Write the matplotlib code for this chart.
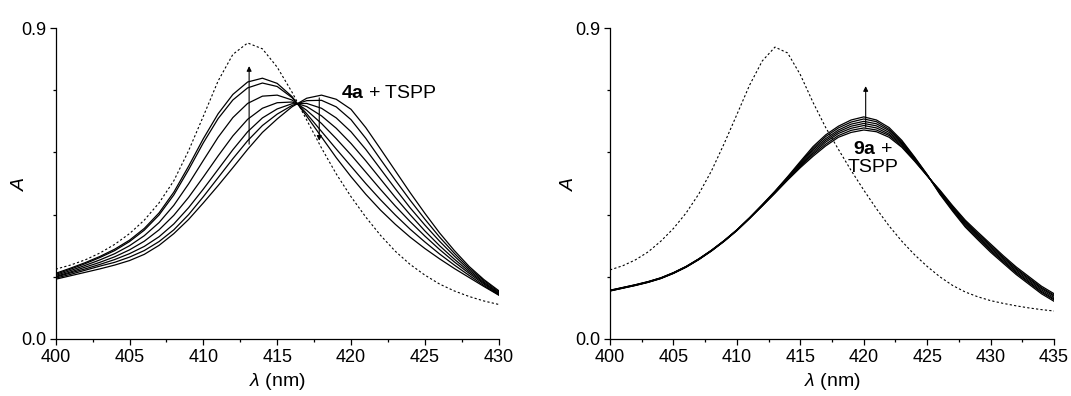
import matplotlib
matplotlib.use("Agg")
import matplotlib.pyplot as plt
from matplotlib.ticker import MultipleLocator, FixedLocator

plt.rcParams["font.family"] = ["Liberation Sans", "DejaVu Sans"]
plt.rcParams["mathtext.fontset"] = "custom"
plt.rcParams["mathtext.rm"] = "Liberation Sans"
plt.rcParams["mathtext.it"] = "Liberation Sans:italic"
plt.rcParams["mathtext.bf"] = "Liberation Sans:bold"

# ---- panel 1: 4a + TSPP (titration spectra, 400-430 nm) ----
wl_a = list(range(400, 431))
a_1 = [0.190, 0.205, 0.221, 0.239, 0.260, 0.286, 0.320, 0.365, 0.425, 0.500, 0.580, 0.652, 0.708, 0.744, 0.755, 0.740,
       0.702, 0.645, 0.585, 0.525, 0.470, 0.419, 0.373, 0.332, 0.295, 0.262, 0.232, 0.204, 0.178, 0.152, 0.127]
a_2 = [0.187, 0.202, 0.218, 0.236, 0.256, 0.282, 0.315, 0.359, 0.417, 0.490, 0.568, 0.638, 0.692, 0.727, 0.741, 0.731,
       0.699, 0.652, 0.601, 0.550, 0.500, 0.450, 0.403, 0.359, 0.318, 0.281, 0.246, 0.214, 0.184, 0.155, 0.128]
a_3 = [0.184, 0.198, 0.213, 0.229, 0.247, 0.270, 0.299, 0.337, 0.387, 0.449, 0.517, 0.584, 0.641, 0.682, 0.703, 0.706,
       0.692, 0.662, 0.624, 0.580, 0.533, 0.483, 0.433, 0.385, 0.340, 0.298, 0.259, 0.223, 0.190, 0.159, 0.130]
a_4 = [0.181, 0.194, 0.208, 0.222, 0.238, 0.258, 0.283, 0.316, 0.358, 0.410, 0.469, 0.530, 0.588, 0.636, 0.668, 0.684,
       0.686, 0.673, 0.646, 0.610, 0.566, 0.516, 0.463, 0.410, 0.360, 0.313, 0.270, 0.231, 0.195, 0.162, 0.132]
a_5 = [0.179, 0.191, 0.203, 0.216, 0.230, 0.247, 0.268, 0.296, 0.333, 0.380, 0.434, 0.491, 0.548, 0.600, 0.640, 0.666,
       0.681, 0.682, 0.668, 0.640, 0.600, 0.549, 0.492, 0.435, 0.380, 0.330, 0.283, 0.240, 0.200, 0.165, 0.134]
a_6 = [0.176, 0.187, 0.199, 0.211, 0.222, 0.237, 0.256, 0.282, 0.316, 0.360, 0.412, 0.467, 0.522, 0.574, 0.618, 0.651,
       0.676, 0.690, 0.691, 0.672, 0.635, 0.581, 0.520, 0.460, 0.402, 0.347, 0.295, 0.248, 0.205, 0.169, 0.137]
a_7 = [0.173, 0.183, 0.193, 0.203, 0.214, 0.227, 0.245, 0.271, 0.305, 0.346, 0.394, 0.444, 0.496, 0.549, 0.598, 0.637,
       0.672, 0.697, 0.706, 0.694, 0.665, 0.612, 0.550, 0.487, 0.424, 0.364, 0.307, 0.256, 0.210, 0.172, 0.140]
tspp_a = [0.202, 0.214, 0.229, 0.249, 0.274, 0.305, 0.344, 0.394, 0.458, 0.545, 0.645, 0.747, 0.824, 0.857, 0.840, 0.787,
          0.715, 0.634, 0.553, 0.478, 0.412, 0.353, 0.300, 0.254, 0.216, 0.185, 0.159, 0.139, 0.123, 0.110, 0.100]

# ---- panel 2: 9a + TSPP (400-435 nm) ----
wl_b = list(range(400, 436))
b_1 = [0.139, 0.147, 0.155, 0.164, 0.175, 0.190, 0.208, 0.230, 0.255, 0.283, 0.314, 0.349, 0.385, 0.422, 0.460, 0.496, 0.529, 0.559,
       0.584, 0.598, 0.605, 0.600, 0.584, 0.555, 0.515, 0.472, 0.431, 0.386, 0.344, 0.309, 0.275, 0.241, 0.209, 0.181, 0.153, 0.131]
b_2 = [0.139, 0.147, 0.155, 0.164, 0.175, 0.190, 0.208, 0.230, 0.255, 0.283, 0.314, 0.349, 0.386, 0.423, 0.462, 0.499, 0.534, 0.564,
       0.589, 0.604, 0.611, 0.605, 0.589, 0.558, 0.517, 0.473, 0.429, 0.383, 0.341, 0.305, 0.271, 0.237, 0.205, 0.177, 0.149, 0.127]
b_3 = [0.140, 0.148, 0.156, 0.165, 0.176, 0.191, 0.209, 0.231, 0.256, 0.284, 0.315, 0.350, 0.386, 0.424, 0.463, 0.502, 0.538, 0.570,
       0.595, 0.610, 0.618, 0.611, 0.593, 0.562, 0.519, 0.473, 0.427, 0.381, 0.337, 0.302, 0.267, 0.234, 0.202, 0.174, 0.146, 0.124]
b_4 = [0.140, 0.148, 0.156, 0.165, 0.176, 0.191, 0.209, 0.231, 0.256, 0.284, 0.315, 0.350, 0.387, 0.425, 0.465, 0.505, 0.543, 0.575,
       0.600, 0.616, 0.624, 0.617, 0.598, 0.565, 0.521, 0.474, 0.425, 0.378, 0.334, 0.298, 0.263, 0.230, 0.198, 0.170, 0.142, 0.120]
b_5 = [0.140, 0.148, 0.156, 0.165, 0.176, 0.191, 0.209, 0.231, 0.256, 0.284, 0.315, 0.350, 0.388, 0.426, 0.467, 0.508, 0.548, 0.580,
       0.605, 0.622, 0.630, 0.623, 0.603, 0.568, 0.523, 0.475, 0.423, 0.375, 0.331, 0.294, 0.259, 0.226, 0.194, 0.166, 0.138, 0.116]
b_6 = [0.141, 0.149, 0.157, 0.166, 0.177, 0.192, 0.210, 0.232, 0.257, 0.285, 0.316, 0.351, 0.388, 0.427, 0.468, 0.511, 0.552, 0.586,
       0.611, 0.628, 0.637, 0.629, 0.607, 0.572, 0.525, 0.475, 0.421, 0.373, 0.327, 0.291, 0.255, 0.223, 0.191, 0.163, 0.135, 0.113]
b_7 = [0.141, 0.149, 0.157, 0.166, 0.177, 0.192, 0.210, 0.232, 0.257, 0.285, 0.316, 0.351, 0.389, 0.428, 0.470, 0.514, 0.557, 0.591,
       0.616, 0.634, 0.643, 0.634, 0.612, 0.575, 0.527, 0.476, 0.419, 0.370, 0.324, 0.287, 0.251, 0.219, 0.187, 0.159, 0.131, 0.109]
tspp_b = [0.200, 0.212, 0.229, 0.252, 0.283, 0.320, 0.365, 0.420, 0.487, 0.566, 0.650, 0.735, 0.805, 0.845, 0.828, 0.765, 0.685, 0.612,
          0.549, 0.488, 0.431, 0.377, 0.327, 0.283, 0.244, 0.210, 0.180, 0.155, 0.136, 0.122, 0.111, 0.103, 0.096, 0.090, 0.085, 0.081]

fig = plt.figure(figsize=(10.71, 3.96), dpi=100)
ax1 = fig.add_axes([0.052, 0.144, 0.4136, 0.785])
ax2 = fig.add_axes([0.5696, 0.144, 0.4146, 0.785])


def style(ax, xmax, ylab_x):
    ax.set_xlim(400, xmax)
    ax.set_ylim(0, 0.9)
    ax.spines["top"].set_visible(False)
    ax.spines["right"].set_visible(False)
    for s in ["left", "bottom"]:
        ax.spines[s].set_linewidth(0.9)
    ax.xaxis.set_major_locator(MultipleLocator(5))
    ax.xaxis.set_minor_locator(MultipleLocator(2.5))
    ax.yaxis.set_major_locator(FixedLocator([0.0, 0.9]))
    ax.yaxis.set_minor_locator(FixedLocator([0.18, 0.36, 0.54, 0.72]))
    ax.yaxis.set_major_formatter(plt.FormatStrFormatter("%.1f"))
    ax.tick_params(which="major", direction="out", length=4, width=0.9, labelsize=13, pad=3)
    ax.tick_params(which="minor", direction="out", length=2.5, width=0.9)
    ax.set_xlabel(r"$\lambda$ (nm)", fontsize=14, labelpad=4)
    ax.set_ylabel(r"$A$", fontsize=14)
    ax.yaxis.set_label_coords(ylab_x, 0.5)


for ys in [a_1, a_2, a_3, a_4, a_5, a_6, a_7]:
    ax1.plot(wl_a, ys, color="black", lw=0.9)
ax1.plot(wl_a, tspp_a, color="black", lw=0.8, dashes=(2, 2))
ax1.annotate("", xy=(413.1, 0.798), xytext=(413.1, 0.556),
             arrowprops=dict(arrowstyle="-|>", color="black", lw=0.8, mutation_scale=7))
ax1.annotate("", xy=(417.85, 0.566), xytext=(417.85, 0.706),
             arrowprops=dict(arrowstyle="-|>", color="black", lw=0.8, mutation_scale=7))
ax1.text(419.35, 0.711, r"$\mathbf{4a}$ + TSPP", fontsize=14, ha="left", va="center")
style(ax1, 430, -0.062)

for ys in [b_1, b_2, b_3, b_4, b_5, b_6, b_7]:
    ax2.plot(wl_b, ys, color="black", lw=0.9)
ax2.plot(wl_b, tspp_b, color="black", lw=0.8, dashes=(2, 2))
ax2.annotate("", xy=(420.15, 0.740), xytext=(420.15, 0.605),
             arrowprops=dict(arrowstyle="-|>", color="black", lw=0.8, mutation_scale=7))
ax2.text(420.75, 0.523, "$\\mathbf{9a}$ +\nTSPP", fontsize=14, ha="center", va="center",
         linespacing=1.1)
style(ax2, 435, -0.075)

fig.savefig("out.png", dpi=100)
